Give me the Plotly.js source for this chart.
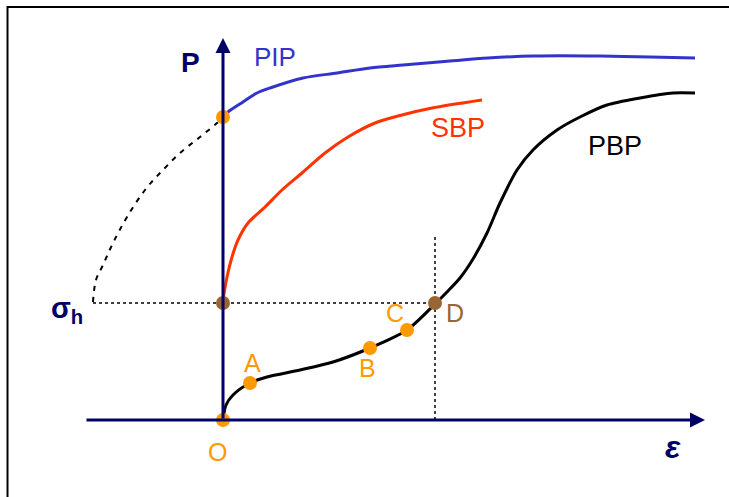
<!DOCTYPE html>
<html>
<head>
<meta charset="utf-8">
<script src="https://cdn.plot.ly/plotly-3.0.1.min.js"></script>
<style>
  html, body { margin: 0; padding: 0; background: #ffffff; }
  #myPlot { width: 729px; height: 497px; }
</style>
</head>
<body>
<div id="myPlot"></div>
<script>
// curves (strain eps, pressure P, arbitrary units)
var pipEps = [0, 0.05, 0.20, 0.34, 0.47, 0.80, 1.14, 1.47, 1.80, 2.27, 2.65, 3.10, 3.77, 4.27, 4.72];
var pipP   = [3.03, 3.08, 3.18, 3.27, 3.32, 3.42, 3.47, 3.52, 3.55, 3.59, 3.62, 3.64, 3.64, 3.63, 3.62];

var sbpEps = [0, 0.04, 0.09, 0.15, 0.25, 0.42, 0.59, 0.79, 1.02, 1.25, 1.52, 1.79, 2.09, 2.59];
var sbpP   = [1.20, 1.43, 1.63, 1.80, 1.97, 2.13, 2.30, 2.47, 2.67, 2.83, 2.97, 3.05, 3.12, 3.20];

var pbpEps = [0, 0.03, 0.10, 0.27, 0.44, 0.77, 1.10, 1.47, 1.84, 2.12, 2.24, 2.37, 2.50, 2.64, 2.77, 2.94, 3.10, 3.34, 3.57, 3.84, 4.17, 4.50, 4.72];
var pbpP   = [0, 0.15, 0.25, 0.37, 0.43, 0.50, 0.58, 0.72, 0.90, 1.16, 1.28, 1.42, 1.61, 1.87, 2.17, 2.50, 2.70, 2.90, 3.03, 3.15, 3.22, 3.27, 3.27];

// dashed extrapolation of PIP back to sigma_h
var extEps = [-1.30, -1.27, -1.20, -1.10, -0.96, -0.78, -0.61, -0.43, -0.23, -0.06, 0];
var extP   = [1.18, 1.40, 1.55, 1.77, 2.03, 2.30, 2.49, 2.67, 2.83, 2.97, 3.03];

var sigmaH = 1.17;     // horizontal stress level
var epsD = 2.12;       // strain at point D

// marked points
var orangeEps = [0, 0, 0.27, 1.47, 1.84];
var orangeP   = [0, 3.03, 0.37, 0.72, 0.90];
var brownEps  = [0, epsD];
var brownP    = [sigmaH, sigmaH];

// point labels
var ptLabels = ['A', 'B', 'C', 'D', 'O'];
var ptEps    = [0.29, 1.44, 1.72, 2.32, -0.06];
var ptP      = [0.57, 0.52, 1.07, 1.07, -0.32];
var ptColors = ['#ff9900', '#ff9900', '#ff9900', '#996633', '#ff9900'];

var navy = '#000066';
var font = 'Liberation Sans, Arial, sans-serif';

var PIP = {
    type: 'scatter', x: pipEps, y: pipP, mode: 'lines',
    line: { color: '#3333cc', width: 3, shape: 'spline', smoothing: 0.8 }
}
var SBP = {
    type: 'scatter', x: sbpEps, y: sbpP, mode: 'lines',
    line: { color: '#ff3300', width: 3, shape: 'spline', smoothing: 0.8 }
}
var PBP = {
    type: 'scatter', x: pbpEps, y: pbpP, mode: 'lines',
    line: { color: '#000000', width: 3, shape: 'spline', smoothing: 0.8 }
}
var Ext = {
    type: 'scatter', x: extEps, y: extP, mode: 'lines',
    line: { color: '#000000', width: 2, dash: '5px,6px', shape: 'spline' }
}
// dotted guide lines through D
var Guides = {
    type: 'scatter',
    x: [extEps[0], epsD, null, epsD, epsD],
    y: [sigmaH, sigmaH, null, 0, 1.85],
    mode: 'lines',
    line: { color: '#000000', width: 1.5, dash: 'dot' }
}
var Orange = {
    type: 'scatter', x: orangeEps, y: orangeP, mode: 'markers',
    marker: { color: '#ff9900', size: 14 }
}
var Brown = {
    type: 'scatter', x: brownEps, y: brownP, mode: 'markers',
    marker: { color: '#996633', size: 14 }
}

var data = [Ext, Guides, PIP, SBP, PBP, Orange, Brown]

function label(text, x, y, color, size) {
    return { text: text, x: x, y: y, xref: 'x', yref: 'y', showarrow: false,
             font: { family: font, size: size, color: color } };
}

var annotations = [
    // axes with arrowheads
    { x: 4.82, y: 0, ax: -1.38, ay: 0, xref: 'x', yref: 'y', axref: 'x', ayref: 'y',
      text: '', showarrow: true, arrowhead: 2, arrowsize: 1, arrowwidth: 3, arrowcolor: navy },
    { x: 0, y: 3.82, ax: 0, ay: 0, xref: 'x', yref: 'y', axref: 'x', ayref: 'y',
      text: '', showarrow: true, arrowhead: 2, arrowsize: 1, arrowwidth: 3, arrowcolor: navy },
    label('<b>P</b>', -0.33, 3.58, navy, 28),
    label('<b><i>ε</i></b>', 4.50, -0.27, navy, 32),
    label('<b>σ<sub>h</sub></b>', -1.56, 1.10, navy, 29),
    label('PIP', 0.52, 3.63, '#3333cc', 26),
    label('SBP', 2.35, 2.92, '#ff3300', 27),
    label('PBP', 3.92, 2.74, '#000000', 27)
];
for (var i = 0; i < ptLabels.length; i++) {
    annotations.push(label(ptLabels[i], ptEps[i], ptP[i], ptColors[i], 25));
}

var layout = {
    width: 729, height: 497,
    margin: { l: 0, r: 0, t: 0, b: 0 },
    paper_bgcolor: '#ffffff', plot_bgcolor: '#ffffff',
    showlegend: false,
    xaxis: { range: [-2.23, 5.06], visible: false, fixedrange: true },
    yaxis: { range: [-0.77, 4.20], visible: false, fixedrange: true },
    annotations: annotations,
    shapes: [
        // picture frame
        { type: 'rect', xref: 'paper', yref: 'paper', x0: 0.0103, x1: 1.02, y0: -0.02, y1: 0.986,
          line: { color: '#000000', width: 2 } }
    ]
}

Plotly.newPlot('myPlot', data, layout, { displayModeBar: false, staticPlot: true });
</script>
</body>
</html>
